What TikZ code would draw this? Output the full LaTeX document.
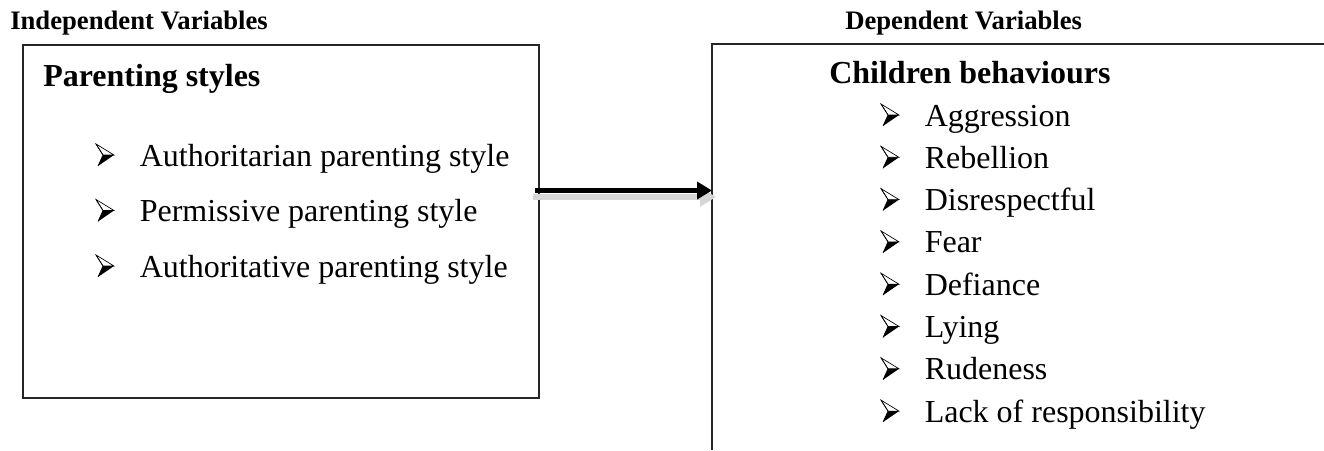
\documentclass[tikz,border=0pt]{standalone}
\usepackage{fontspec}
\setmainfont{Liberation Serif}
\usetikzlibrary{arrows.meta}
\begin{document}
\begin{tikzpicture}[x=0.75pt,y=-0.75pt,
  title/.style={anchor=base west, inner sep=0pt, font=\fontsize{20}{24}\selectfont\bfseries},
  head/.style={anchor=base west, inner sep=0pt, font=\fontsize{24}{28}\selectfont\bfseries},
  item/.style={anchor=base west, inner sep=0pt, font=\fontsize{24}{28}\selectfont},
  boxline/.style={draw=black!85, line width=1.5pt},
  conn/.style={line width=4pt, -{Triangle[length=11.25pt,width=12.75pt]}},
  shadowconn/.style={gray!32, line width=5pt, -{Triangle[length=12pt,width=14pt]}},
  arrbullet/.pic={
    \fill[white, draw=black, line width=0.5pt, line join=miter] (0,-22) -- (18,-11) -- (7,-11) -- cycle;
    \fill[black] (7,-11) -- (18,-11) -- (2,0) -- cycle;
    \draw[black, line width=0.5pt] (0,-22) -- (7,-11) -- (2,0);
  }
]
\useasboundingbox (0,0) rectangle (1324,450);

% titles
\node[title] (tind) at (10,29) {Independent Variables};
\node[title] (tdep) at (845,29) {Dependent Variables};

% left box
\node[boxline, minimum width=387pt, minimum height=264.75pt, inner sep=0pt, outer sep=0pt, anchor=north west] (lbox) at (23,45) {};
\node[head] (lhead) at (43,86) {Parenting styles};
\foreach \t [count=\i] in {Authoritarian parenting style, Permissive parenting style, Authoritative parenting style}{
  \pic at (96,{166+55.5*(\i-1)}) {arrbullet};
  \node[item] (li\i) at (139.5,{166+55.5*(\i-1)}) {\t};
}

% right box (open at right and bottom)
\node[minimum width=459pt, minimum height=304.5pt, inner sep=0pt, outer sep=0pt, anchor=north west] (rbox) at (712,44) {};
\draw[boxline] (rbox.north east) -- (rbox.north west) -- (rbox.south west);
\node[head] (rhead) at (829,83) {Children behaviours};
\foreach \t [count=\i] in {Aggression, Rebellion, Disrespectful, Fear, Defiance, Lying, Rudeness, Lack of responsibility}{
  \pic at (881,{126+42.3*(\i-1)}) {arrbullet};
  \node[item] (ri\i) at (924.5,{126+42.3*(\i-1)}) {\t};
}

% connector
\coordinate (a1) at (535,190.5);
\coordinate (a2) at (a1 -| rbox.west);
\coordinate (s1) at (533,197);
\coordinate (s2) at (716,197);
\draw[shadowconn] (s1) -- (s2);
\draw[conn] (a1) -- (a2);
\end{tikzpicture}
\end{document}
